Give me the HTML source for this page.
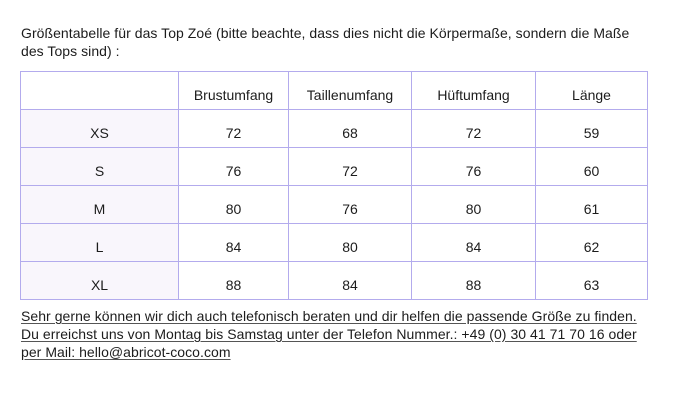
<!DOCTYPE html>
<html>
<head>
<meta charset="utf-8">
<style>
  html, body { margin:0; padding:0; background:#fff; }
  body { width:691px; height:411px; position:relative; overflow:hidden;
         font-family:"Liberation Sans", sans-serif; font-size:14px; color:#1c1c1c; }
  .t { position:absolute; left:21px; white-space:nowrap; line-height:18px; letter-spacing:0.05px; }
  .h { position:absolute; background:#b3abed; height:1px; left:20px; width:628px; }
  .v { position:absolute; background:#b3abed; width:1px; top:71px; height:229px; }
  .bg { position:absolute; left:21px; width:157px; background:#f9f6fc; }
  .c { position:absolute; height:38px; line-height:38px; text-align:center; white-space:nowrap; }
  .u { text-decoration:underline; text-underline-offset:2px; text-decoration-color:#555; }
</style>
</head>
<body>
<div class="t" style="top:24px;">Größentabelle für das Top Zoé (bitte beachte, dass dies nicht die Körpermaße, sondern die Maße</div>
<div class="t" style="top:42px;">des Tops sind) :</div>

<div class="bg" style="top:110px;height:189px;"></div>

<div class="h" style="top:71px;"></div>
<div class="h" style="top:109px;"></div>
<div class="h" style="top:147px;"></div>
<div class="h" style="top:185px;"></div>
<div class="h" style="top:223px;"></div>
<div class="h" style="top:261px;"></div>
<div class="h" style="top:299px;"></div>

<div class="v" style="left:20px;"></div>
<div class="v" style="left:178px;"></div>
<div class="v" style="left:288px;"></div>
<div class="v" style="left:411px;"></div>
<div class="v" style="left:535px;"></div>
<div class="v" style="left:647px;"></div>

<!-- header -->
<div class="c" style="top:76px;left:179px;width:109px;">Brustumfang</div>
<div class="c" style="top:76px;left:289px;width:122px;">Taillenumfang</div>
<div class="c" style="top:76px;left:412px;width:123px;">Hüftumfang</div>
<div class="c" style="top:76px;left:536px;width:111px;">Länge</div>

<!-- XS -->
<div class="c" style="top:114px;left:21px;width:157px;">XS</div>
<div class="c" style="top:114px;left:179px;width:109px;">72</div>
<div class="c" style="top:114px;left:289px;width:122px;">68</div>
<div class="c" style="top:114px;left:412px;width:123px;">72</div>
<div class="c" style="top:114px;left:536px;width:111px;">59</div>
<!-- S -->
<div class="c" style="top:152px;left:21px;width:157px;">S</div>
<div class="c" style="top:152px;left:179px;width:109px;">76</div>
<div class="c" style="top:152px;left:289px;width:122px;">72</div>
<div class="c" style="top:152px;left:412px;width:123px;">76</div>
<div class="c" style="top:152px;left:536px;width:111px;">60</div>
<!-- M -->
<div class="c" style="top:190px;left:21px;width:157px;">M</div>
<div class="c" style="top:190px;left:179px;width:109px;">80</div>
<div class="c" style="top:190px;left:289px;width:122px;">76</div>
<div class="c" style="top:190px;left:412px;width:123px;">80</div>
<div class="c" style="top:190px;left:536px;width:111px;">61</div>
<!-- L -->
<div class="c" style="top:228px;left:21px;width:157px;">L</div>
<div class="c" style="top:228px;left:179px;width:109px;">84</div>
<div class="c" style="top:228px;left:289px;width:122px;">80</div>
<div class="c" style="top:228px;left:412px;width:123px;">84</div>
<div class="c" style="top:228px;left:536px;width:111px;">62</div>
<!-- XL -->
<div class="c" style="top:266px;left:21px;width:157px;">XL</div>
<div class="c" style="top:266px;left:179px;width:109px;">88</div>
<div class="c" style="top:266px;left:289px;width:122px;">84</div>
<div class="c" style="top:266px;left:412px;width:123px;">88</div>
<div class="c" style="top:266px;left:536px;width:111px;">63</div>

<div class="t u" style="top:307px;">Sehr gerne können wir dich auch telefonisch beraten und dir helfen die passende Größe zu finden.</div>
<div class="t u" style="top:325px;">Du erreichst uns von Montag bis Samstag unter der Telefon Nummer.: +49 (0) 30 41 71 70 16 oder</div>
<div class="t u" style="top:343px;">per Mail: hello@abricot-coco.com</div>
</body>
</html>
